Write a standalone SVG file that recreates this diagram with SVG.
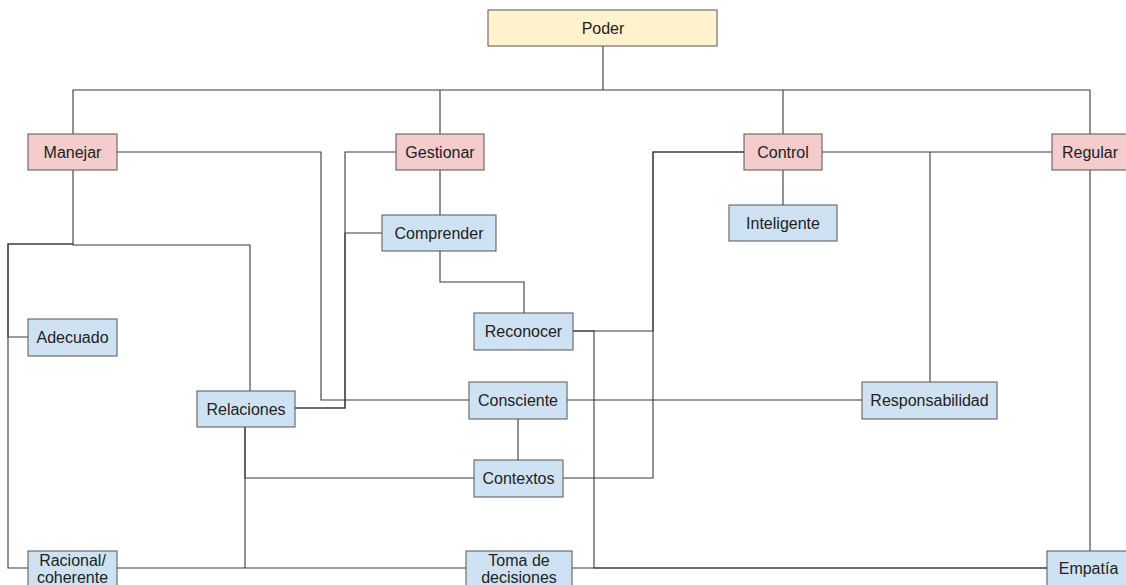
<svg xmlns="http://www.w3.org/2000/svg" width="1126" height="585" viewBox="0 0 1126 585">
<style>
.n rect{stroke:#555;stroke-width:1}
.y rect{fill:#fff2cc}
.r rect{fill:#f4cccc}
.b rect{fill:#cfe2f3}
text{font-family:"Liberation Sans",Arial,sans-serif;font-size:16px;fill:#222;text-anchor:middle}
#connectors path{fill:none;stroke:#3a3a3a;stroke-width:1.1}
</style>
<rect width="1126" height="585" fill="#fff"/>
<g id="connectors">
<path d="M603 46V90"/>
<path d="M73 134V90H1090V134"/>
<path d="M440 90V134"/>
<path d="M783 90V134"/>
<path d="M117 152H321V400H469"/>
<path d="M396 152H345V408H295"/>
<path d="M382 233H345V408H295"/>
<path d="M440 170V215"/>
<path d="M440 251V282H524V313"/>
<path d="M744 152H653V331H573"/>
<path d="M744 152H653V478H563"/>
<path d="M573 331H594V568H1047"/>
<path d="M572 568H1047"/>
<path d="M783 170V205"/>
<path d="M822 152H1052"/>
<path d="M930 152V382"/>
<path d="M567 400H862"/>
<path d="M518 419V460"/>
<path d="M1090 170V551"/>
<path d="M73 170V245H250V391"/>
<path d="M73 244H8V337H28"/>
<path d="M73 244H8V568H28"/>
<path d="M117 568H466"/>
<path d="M245 427V478H474"/>
<path d="M245 427V568"/>
</g>
<g id="poder" class="n y"><rect x="488" y="10" width="229" height="36"/><text x="603" y="34">Poder</text></g>
<g id="manejar" class="n r"><rect x="28" y="134" width="89" height="36"/><text x="72.5" y="158">Manejar</text></g>
<g id="gestionar" class="n r"><rect x="396" y="134" width="88" height="36"/><text x="440" y="158">Gestionar</text></g>
<g id="control" class="n r"><rect x="744" y="134" width="78" height="36"/><text x="783" y="158">Control</text></g>
<g id="regular" class="n r"><rect x="1052" y="134" width="76" height="36"/><text x="1090" y="158">Regular</text></g>
<g id="comprender" class="n b"><rect x="382" y="215" width="114" height="36"/><text x="439" y="239">Comprender</text></g>
<g id="inteligente" class="n b"><rect x="729" y="205" width="108" height="36"/><text x="783" y="229">Inteligente</text></g>
<g id="reconocer" class="n b"><rect x="474" y="313" width="99" height="37"/><text x="523.5" y="337">Reconocer</text></g>
<g id="adecuado" class="n b"><rect x="28" y="319" width="89" height="37"/><text x="72.5" y="343">Adecuado</text></g>
<g id="relaciones" class="n b"><rect x="197" y="391" width="98" height="36"/><text x="246" y="415">Relaciones</text></g>
<g id="consciente" class="n b"><rect x="469" y="382" width="98" height="37"/><text x="518" y="406">Consciente</text></g>
<g id="responsabilidad" class="n b"><rect x="862" y="382" width="135" height="37"/><text x="929.5" y="406">Responsabilidad</text></g>
<g id="contextos" class="n b"><rect x="474" y="460" width="89" height="37"/><text x="518.5" y="484">Contextos</text></g>
<g id="racional" class="n b"><rect x="28" y="551" width="89" height="50"/><text x="72.5" y="566">Racional/</text><text x="72.5" y="583">coherente</text></g>
<g id="toma" class="n b"><rect x="466" y="551" width="106" height="50"/><text x="519" y="566">Toma de</text><text x="519" y="583">decisiones</text></g>
<g id="empatia" class="n b"><rect x="1047" y="551" width="83" height="36"/><text x="1088.5" y="574">Empatía</text></g>
</svg>
